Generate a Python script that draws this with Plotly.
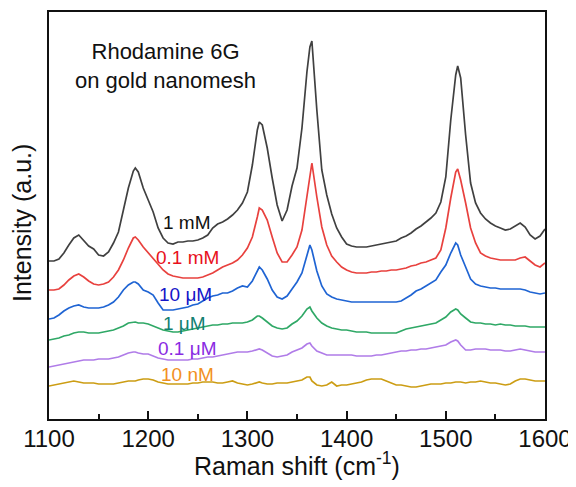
import plotly.graph_objects as go

# Raman shift grid (cm^-1)
raman_shift = [
    1100, 1105, 1110, 1115, 1120, 1125, 1130, 1135, 1140, 1145,
    1150, 1155, 1160, 1165, 1170, 1175, 1180, 1185, 1187, 1190, 1195,
    1200, 1205, 1210, 1215, 1220, 1225, 1230, 1235, 1240, 1245,
    1250, 1255, 1260, 1265, 1270, 1275, 1280, 1285, 1290, 1295,
    1300, 1305, 1310, 1312, 1315, 1320, 1325, 1330, 1335, 1340, 1345,
    1350, 1355, 1360, 1363, 1365, 1370, 1375, 1380, 1385, 1390, 1395,
    1400, 1405, 1410, 1415, 1420, 1425, 1430, 1435, 1440, 1445,
    1450, 1455, 1460, 1465, 1470, 1475, 1480, 1485, 1490, 1495,
    1500, 1505, 1510, 1512, 1515, 1520, 1525, 1530, 1535, 1540, 1545,
    1550, 1555, 1560, 1565, 1570, 1575, 1580, 1585, 1590, 1595, 1600,
]

# Intensities (a.u., stacked with offsets as in the figure)
i_1mM = [
    158, 158, 160, 166, 174, 181, 184, 179, 173, 170,
    164, 163, 167, 176, 187, 209, 231, 248, 251, 247, 231,
    219, 207, 191, 181, 176, 175, 177, 177, 178, 178,
    179, 181, 184, 191, 195, 197, 200, 204, 209, 216,
    227, 254, 289, 297, 294, 271, 241, 214, 198, 209, 233,
    251, 291, 347, 372, 378, 309, 249, 224, 205, 191, 182,
    175, 173, 172, 172, 172, 173, 174, 175, 176, 177,
    178, 181, 183, 186, 190, 193, 197, 201, 206, 217,
    242, 299, 344, 353, 341, 284, 236, 216, 206, 200, 196,
    193, 191, 189, 190, 193, 196, 192, 184, 180, 183, 190,
]
i_01mM = [
    129, 129, 130, 134, 139, 143, 145, 142, 138, 135,
    134, 135, 137, 142, 149, 159, 171, 181, 182, 179, 172,
    166, 161, 155, 149, 145, 143, 142, 141, 141, 141,
    141, 142, 144, 146, 149, 152, 154, 156, 159, 164,
    171, 182, 202, 211, 209, 199, 182, 166, 157, 157, 164,
    172, 189, 224, 247, 256, 222, 192, 174, 163, 157, 152,
    149, 147, 146, 146, 146, 147, 147, 148, 148, 149,
    149, 150, 151, 153, 154, 156, 157, 159, 161, 169,
    191, 221, 247, 250, 239, 216, 191, 176, 166, 163, 161,
    160, 159, 159, 159, 159, 161, 162, 158, 154, 152, 156,
]
i_10uM = [
    100, 101, 104, 108, 111, 113, 114, 112, 111, 111,
    111, 112, 114, 117, 122, 129, 134, 137, 137, 135, 129,
    127, 124, 116, 109, 109, 109, 110, 111, 112, 114,
    115, 118, 121, 123, 124, 126, 126, 128, 131, 133,
    132, 138, 149, 152, 149, 140, 129, 122, 120, 123, 130,
    137, 146, 163, 174, 169, 148, 133, 125, 122, 120, 119,
    118, 117, 117, 117, 117, 117, 117, 117, 117, 117,
    117, 118, 121, 124, 128, 130, 133, 136, 139, 147,
    154, 166, 176, 174, 164, 152, 140, 135, 133, 132, 131,
    131, 130, 130, 130, 130, 130, 129, 127, 126, 125, 126,
]
i_1uM = [
    79, 80, 81, 83, 84, 86, 87, 87, 86, 86,
    86, 87, 88, 89, 91, 93, 96, 97, 97, 96, 96,
    95, 93, 91, 89, 88, 87, 87, 88, 89, 90,
    91, 92, 93, 94, 94, 95, 95, 96, 96, 96,
    97, 99, 103, 103, 101, 97, 93, 91, 90, 91, 95,
    98, 103, 110, 112, 108, 101, 96, 93, 91, 90, 89,
    89, 88, 87, 87, 87, 86, 86, 86, 86, 86,
    86, 88, 90, 91, 92, 93, 94, 95, 96, 99,
    102, 107, 110, 109, 105, 101, 97, 96, 96, 95, 95,
    94, 95, 94, 94, 93, 93, 93, 92, 92, 92, 92,
]
i_01uM = [
    52, 53, 54, 55, 56, 57, 58, 59, 59, 59,
    60, 60, 60, 61, 62, 64, 66, 67, 67, 66, 65,
    65, 63, 61, 60, 59, 59, 59, 59, 59, 60,
    60, 61, 62, 62, 63, 64, 65, 66, 67, 67,
    67, 68, 70, 70, 69, 66, 63, 62, 63, 64, 67,
    69, 71, 75, 76, 73, 68, 66, 64, 64, 64, 64,
    64, 64, 63, 63, 63, 63, 64, 64, 65, 66,
    67, 68, 68, 69, 69, 70, 70, 71, 72, 73,
    74, 77, 79, 78, 74, 69, 69, 70, 70, 70, 69,
    69, 69, 68, 68, 69, 70, 69, 68, 67, 67, 67,
]
i_10nM = [
    33, 34, 35, 36, 37, 38, 37, 36, 36, 36,
    35, 35, 35, 35, 36, 37, 38, 38, 38, 39, 40,
    40, 39, 37, 36, 35, 35, 35, 35, 35, 36,
    36, 37, 37, 37, 36, 36, 37, 38, 36, 35,
    34, 35, 37, 37, 36, 35, 35, 36, 36, 36, 37,
    38, 39, 42, 42, 38, 34, 33, 34, 37, 33, 34,
    34, 35, 36, 37, 39, 40, 40, 40, 38, 36,
    34, 34, 33, 32, 32, 33, 34, 35, 35, 35,
    36, 36, 37, 37, 37, 36, 37, 37, 38, 37, 36,
    36, 35, 34, 35, 38, 40, 40, 39, 38, 38, 38,
]

series_names = ["1 mM", "0.1 mM", "10 μM", "1 μM", "0.1 μM", "10 nM"]
series_values = [i_1mM, i_01mM, i_10uM, i_1uM, i_01uM, i_10nM]
line_colors = ["#404040", "#e8413e", "#1f64d3", "#2fa866", "#b07ce8", "#cc9d14"]
label_colors = ["#111111", "#e8101c", "#1515c8", "#138072", "#8a2be2", "#f2901e"]
label_x = [1239, 1240, 1238, 1237, 1239, 1240]
label_y = [197, 162, 125, 96, 71, 45]

tick_vals = [1100, 1200, 1300, 1400, 1500, 1600]
tick_text = ["1100", "1200", "1300", "1400", "1500", "1600"]

FONT = "Arial, Liberation Sans, Arimo, sans-serif"

fig = go.Figure()
for name, vals, col in zip(series_names, series_values, line_colors):
    fig.add_trace(go.Scatter(x=raman_shift, y=vals, mode="lines", name=name,
                             line=dict(color=col, width=1.7), showlegend=False))

for name, lx, ly, col in zip(series_names, label_x, label_y, label_colors):
    fig.add_annotation(x=lx, y=ly, xref="x", yref="y", text=name, showarrow=False,
                       font=dict(family=FONT, size=19, color=col),
                       xanchor="center", yanchor="middle")

fig.add_annotation(x=0.234, y=0.867, xref="paper", yref="paper",
                   text="Rhodamine 6G<br>on gold nanomesh", showarrow=False,
                   font=dict(family=FONT, size=22, color="#111111"),
                   align="center", xanchor="center", yanchor="middle")

# axis titles
fig.add_annotation(x=0.5, y=-0.111, xref="paper", yref="paper",
                   text="Raman shift (cm<sup>-1</sup>)", showarrow=False,
                   font=dict(family=FONT, size=25, color="#111111"),
                   xanchor="center", yanchor="middle")
fig.add_annotation(x=-0.0544, y=0.4816, xref="paper", yref="paper",
                   text="Intensity (a.u.)", showarrow=False, textangle=-90,
                   font=dict(family=FONT, size=25, color="#111111"),
                   xanchor="center", yanchor="middle")

# The page body adds an 8px offset, so the figure is 8px smaller and margins trimmed
fig.update_layout(
    width=568, height=479,
    margin=dict(l=41, r=31, t=4, b=68),
    paper_bgcolor="white", plot_bgcolor="white",
    font=dict(family=FONT, color="#111111"),
    xaxis=dict(
        range=[1100, 1600], tickmode="array", tickvals=tick_vals, ticktext=tick_text,
        ticks="inside", ticklen=8, tickwidth=1.5, tickcolor="#111111",
        minor=dict(ticks="inside", ticklen=5, tickwidth=1.5, tickcolor="#111111",
                   dtick=50, tick0=1100, showgrid=False),
        showline=True, linecolor="#111111", linewidth=1.8, mirror=True,
        showgrid=False, zeroline=False, automargin=False,
        ticklabelstandoff=-3,
        tickfont=dict(family=FONT, size=24, color="#111111"),
    ),
    yaxis=dict(
        range=[0, 407], showticklabels=False, ticks="",
        showline=True, linecolor="#111111", linewidth=1.8, mirror=True,
        showgrid=False, zeroline=False, automargin=False,
    ),
)

fig.write_html("out.html")
